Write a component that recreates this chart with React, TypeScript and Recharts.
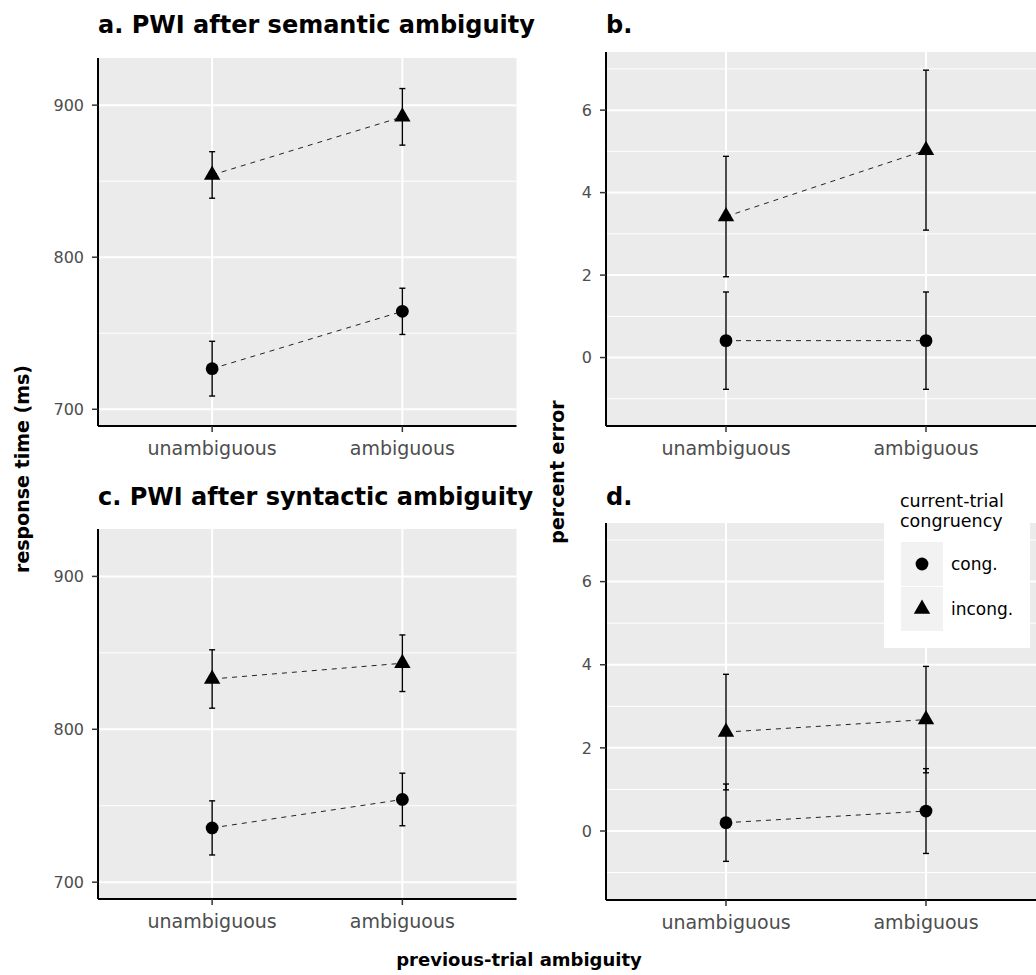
import React from 'react'
import { ComposedChart, Line, XAxis, YAxis, CartesianGrid, ErrorBar, Legend } from 'recharts'

const FONT = '"DejaVu Sans", sans-serif'

const categories = ['unambiguous', 'ambiguous']
const seriesNames = ['cong.', 'incong.']

// a. semantic ambiguity, response time (ms)
const semRtCong = [726.7, 764.4]
const semRtCongSe = [18.0, 15.2]
const semRtIncong = [854.1, 892.3]
const semRtIncongSe = [15.3, 18.6]

// b. semantic ambiguity, percent error
const semErrCong = [0.41, 0.41]
const semErrCongSe = [1.18, 1.18]
const semErrIncong = [3.42, 5.03]
const semErrIncongSe = [1.46, 1.94]

// c. syntactic ambiguity, response time (ms)
const synRtCong = [735.5, 754.1]
const synRtCongSe = [17.7, 17.2]
const synRtIncong = [832.9, 843.2]
const synRtIncongSe = [19.1, 18.5]

// d. syntactic ambiguity, percent error
const synErrCong = [0.2, 0.48]
const synErrCongSe = [0.93, 1.02]
const synErrIncong = [2.38, 2.68]
const synErrIncongSe = [1.39, 1.28]

const rtTicks = [700, 800, 900]
const rtMinor = [750, 850]
const errTicks = [0, 2, 4, 6]
const errMinor = [-1, 1, 3, 5, 7]

const rtDomain = [689, 931]
const errDomain = [-1.66, 7.41]

const makeRows = (cong: number[], congSe: number[], incong: number[], incongSe: number[]) =>
  categories.map((c, i) => ({
    x: i + 1,
    cong: cong[i],
    congSe: congSe[i],
    incong: incong[i],
    incongSe: incongSe[i],
  }))

const Circle = (props: any) => {
  const { cx, cy, index } = props
  if (cx == null || cy == null) return null
  return <circle key={'c' + index} cx={cx} cy={cy} r={6.4} fill="#000" />
}

const Triangle = (props: any) => {
  const { cx, cy, index } = props
  if (cx == null || cy == null) return null
  const s = 6.1
  const pts = `${cx},${cy - 1.555 * s} ${cx + 1.347 * s},${cy + 0.778 * s} ${cx - 1.347 * s},${cy + 0.778 * s}`
  return <polygon key={'t' + index} points={pts} fill="#000" />
}

const renderLegend = (props: any) => {
  const payload = props.payload || []
  return (
    <div style={{ width: 146, height: 170, background: '#fff', position: 'relative', fontFamily: FONT }}>
      <div style={{ position: 'absolute', left: 16, top: 13, fontSize: 17.5, lineHeight: '20px', color: '#000' }}>
        current-trial
        <br />
        congruency
      </div>
      {payload.map((p: any, i: number) => (
        <div key={i} style={{ position: 'absolute', left: 17, top: 64 + i * 45, height: 44, display: 'flex', alignItems: 'center' }}>
          <svg width={42} height={44} style={{ display: 'block' }}>
            <rect x={0} y={0} width={42} height={44} fill="#f2f2f2" />
            {p.dataKey === 'cong'
              ? <circle cx={21} cy={22} r={6.4} fill="#000" />
              : <polygon points="21,12.5 29.2,26.7 12.8,26.7" fill="#000" />}
          </svg>
          <span style={{ marginLeft: 8, fontSize: 17, color: '#000' }}>{p.value}</span>
        </div>
      ))}
    </div>
  )
}

interface PanelProps {
  rows: any[]
  domain: number[]
  ticks: number[]
  minor: number[]
  left: number
  top: number
  width: number
  height: number
  marginTop: number
  marginRight: number
  yAxisWidth: number
  xAxisHeight: number
  legend?: boolean
}

function Panel(p: PanelProps) {
  return (
    <div style={{ position: 'absolute', left: p.left, top: p.top }}>
      <ComposedChart
        width={p.width}
        height={p.height}
        data={p.rows}
        margin={{ top: p.marginTop, right: p.marginRight, left: 0, bottom: 0 }}
      >
        <CartesianGrid fill="#ebebeb" stroke="#fff" strokeWidth={2} verticalValues={[1, 2]} horizontalValues={p.ticks} />
        <CartesianGrid stroke="#fff" strokeWidth={1} vertical={false} horizontalValues={p.minor} />
        <XAxis
          dataKey="x"
          type="number"
          domain={[0.4, 2.6]}
          ticks={[1, 2]}
          allowDataOverflow
          interval={0}
          tickFormatter={(v: number) => categories[v - 1]}
          height={p.xAxisHeight}
          tickSize={6}
          tickMargin={10}
          tick={{ fontSize: 19, fill: '#4d4d4d' }}
          tickLine={{ stroke: '#333', strokeWidth: 1.5 }}
          axisLine={{ stroke: '#000', strokeWidth: 2 }}
        />
        <YAxis
          type="number"
          domain={p.domain}
          ticks={p.ticks}
          allowDataOverflow
          interval={0}
          width={p.yAxisWidth}
          tickSize={6}
          tickMargin={8}
          tick={{ fontSize: 16, fill: '#4d4d4d' }}
          tickLine={{ stroke: '#333', strokeWidth: 1.5 }}
          axisLine={{ stroke: '#000', strokeWidth: 2 }}
        />
        <Line
          dataKey="cong"
          name={seriesNames[0]}
          stroke="#222"
          strokeWidth={1}
          strokeDasharray="5 5"
          dot={Circle}
          activeDot={false}
          isAnimationActive={false}
        >
          <ErrorBar dataKey="congSe" direction="y" width={3} stroke="#000" strokeWidth={1.4} isAnimationActive={false} />
        </Line>
        <Line
          dataKey="incong"
          name={seriesNames[1]}
          stroke="#222"
          strokeWidth={1}
          strokeDasharray="5 5"
          dot={Triangle}
          activeDot={false}
          isAnimationActive={false}
        >
          <ErrorBar dataKey="incongSe" direction="y" width={3} stroke="#000" strokeWidth={1.4} isAnimationActive={false} />
        </Line>
        {p.legend && (
          <Legend
            layout="vertical"
            align="center"
            verticalAlign="middle"
            content={renderLegend}
            wrapperStyle={{ left: 364, top: 8, width: 146, height: 170 }}
          />
        )}
      </ComposedChart>
    </div>
  )
}

export default function App() {
  const titleStyle = { fontSize: 24, fontWeight: 'bold' as const, fill: '#000' }
  const labelStyle = { fontSize: 19, fontWeight: 'bold' as const, fill: '#000' }
  return (
    <div
      style={{
        position: 'absolute',
        left: 0,
        top: 0,
        width: 1036,
        height: 975,
        overflow: 'hidden',
        background: '#fff',
        fontFamily: FONT,
      }}
    >
      <Panel
        rows={makeRows(semRtCong, semRtCongSe, semRtIncong, semRtIncongSe)}
        domain={rtDomain}
        ticks={rtTicks}
        minor={rtMinor}
        left={0}
        top={0}
        width={530}
        height={470}
        marginTop={58}
        marginRight={13.5}
        yAxisWidth={98}
        xAxisHeight={44}
      />
      <Panel
        rows={makeRows(semErrCong, semErrCongSe, semErrIncong, semErrIncongSe)}
        domain={errDomain}
        ticks={errTicks}
        minor={errMinor}
        left={520}
        top={0}
        width={526}
        height={470}
        marginTop={52}
        marginRight={0}
        yAxisWidth={86}
        xAxisHeight={44}
      />
      <Panel
        rows={makeRows(synRtCong, synRtCongSe, synRtIncong, synRtIncongSe)}
        domain={rtDomain}
        ticks={rtTicks}
        minor={rtMinor}
        left={0}
        top={470}
        width={530}
        height={470}
        marginTop={59}
        marginRight={13.5}
        yAxisWidth={98}
        xAxisHeight={41}
      />
      <Panel
        rows={makeRows(synErrCong, synErrCongSe, synErrIncong, synErrIncongSe)}
        domain={errDomain}
        ticks={errTicks}
        minor={errMinor}
        left={520}
        top={470}
        width={526}
        height={470}
        marginTop={53}
        marginRight={0}
        yAxisWidth={86}
        xAxisHeight={40}
        legend
      />
      <svg
        width={1036}
        height={975}
        style={{ position: 'absolute', left: 0, top: 0, pointerEvents: 'none' }}
      >
        <text x={98} y={33} style={titleStyle}>a. PWI after semantic ambiguity</text>
        <text x={606} y={33} style={titleStyle}>b.</text>
        <text x={98} y={505} style={titleStyle}>c. PWI after syntactic ambiguity</text>
        <text x={606} y={505} style={titleStyle}>d.</text>
        <text x={29} y={469} textAnchor="middle" transform="rotate(-90 29 469)" style={labelStyle}>
          response time (ms)
        </text>
        <text x={564} y={472} textAnchor="middle" transform="rotate(-90 564 472)" style={labelStyle}>
          percent error
        </text>
        <text x={519} y={966} textAnchor="middle" style={{ ...labelStyle, fontSize: 18 }}>
          previous-trial ambiguity
        </text>
      </svg>
    </div>
  )
}
